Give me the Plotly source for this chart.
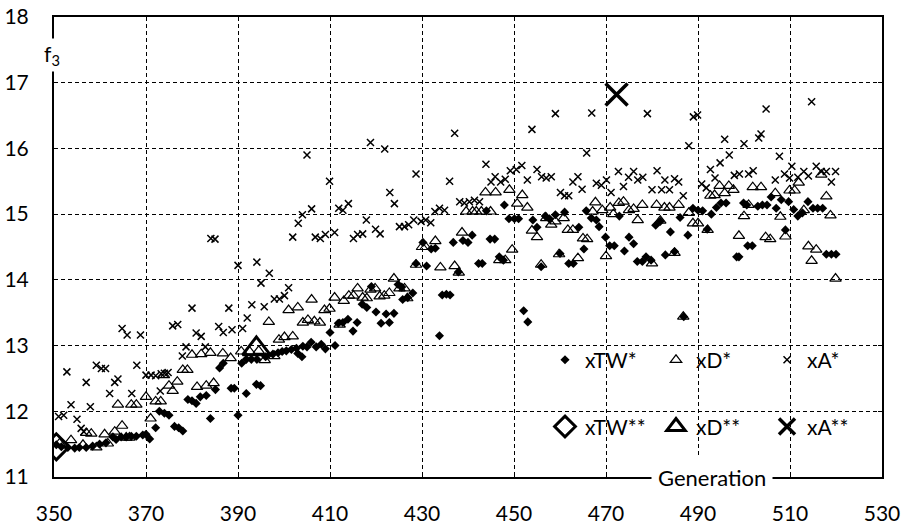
import plotly.graph_objects as go

# ---------------- data ----------------
xtw_x = [350.5, 351.6, 353.0, 354.5, 355.5, 357.0, 358.4, 359.9, 361.3, 362.8, 363.5, 364.6, 365.7, 366.8,
         367.9, 369.3, 370.0, 370.8, 372.1, 372.9, 374.0, 375.0, 376.2, 377.1, 378.0, 379.1, 380.0, 380.9,
         381.8, 383.1, 384.0, 385.1, 386.0, 386.8, 388.5, 389.2, 390.0, 390.8, 391.8, 391.8, 392.9, 394.0,
         394.9, 394.1, 396.0, 397.6, 398.7, 399.6, 400.5, 401.6, 402.7, 403.0, 403.9, 404.1, 405.0, 405.9,
         407.0, 408.1, 409.0, 410.0, 411.1, 411.8, 412.8, 413.9, 415.0, 415.9, 417.0, 418.0, 419.0, 420.0,
         421.1, 422.2, 422.9, 423.9, 424.8, 425.6, 425.8, 426.9, 428.0, 428.7, 430.2, 431.0, 432.0, 432.9,
         433.8, 434.4, 435.3, 436.1, 436.8, 437.9, 438.9, 440.0, 440.9, 442.3, 443.1, 444.0, 444.8, 445.8,
         446.8, 447.7, 447.9, 448.9, 450.1, 451.0, 452.1, 453.0, 454.1, 455.0, 455.9, 456.8, 457.7, 459.0,
         460.0, 461.0, 461.9, 462.9, 464.1, 465.2, 465.7, 466.8, 467.9, 468.5, 469.9, 470.8, 471.8, 472.9,
         474.0, 475.0, 476.0, 476.8, 477.9, 478.7, 479.8, 480.8, 481.8, 482.9, 484.0, 484.9, 486.1, 486.9,
         487.8, 488.9, 490.0, 491.0, 492.0, 492.9, 494.0, 495.0, 496.1, 498.4, 498.9, 499.9, 500.6, 500.8,
         501.8, 503.0, 504.0, 505.0, 505.9, 507.0, 508.1, 509.0, 509.7, 510.8, 511.7, 512.7, 513.9, 515.0,
         516.0, 517.1, 517.9, 519.0, 520.0]
xtw_y = [11.49, 11.46, 11.45, 11.44, 11.45, 11.45, 11.47, 11.50, 11.52, 11.61, 11.57, 11.61, 11.61, 11.62,
         11.62, 11.64, 11.65, 11.58, 11.75, 12.00, 11.97, 11.94, 11.77, 11.75, 11.70, 12.18, 12.16, 12.12,
         12.22, 12.24, 11.89, 12.33, 12.66, 12.73, 12.35, 12.35, 11.94, 12.73, 12.27, 12.79, 12.79, 12.41,
         12.39, 12.79, 12.83, 12.87, 12.89, 12.91, 12.92, 12.94, 12.96, 12.88, 12.83, 12.99, 12.98, 13.05,
         12.98, 13.02, 12.95, 13.20, 13.00, 13.34, 13.35, 13.40, 13.22, 13.35, 13.63, 13.58, 13.90, 13.51,
         13.34, 13.48, 13.35, 13.49, 13.93, 13.89, 13.70, 13.73, 13.80, 14.25, 14.57, 14.21, 14.47, 14.48,
         13.15, 13.77, 13.78, 13.77, 14.57, 14.12, 14.60, 14.57, 14.68, 14.25, 14.25, 15.05, 14.62, 14.62,
         14.35, 14.30, 15.14, 14.93, 14.93, 14.93, 13.53, 13.36, 14.91, 14.80, 14.20, 14.97, 14.93, 14.99,
         14.40, 15.03, 14.25, 14.25, 14.80, 14.47, 15.05, 14.94, 14.91, 14.81, 14.65, 14.52, 14.52, 14.97,
         14.44, 14.65, 14.55, 14.28, 14.28, 14.35, 14.30, 14.83, 14.89, 14.38, 14.73, 14.43, 14.95, 13.44,
         14.68, 15.09, 15.06, 15.05, 14.77, 15.00, 15.10, 15.17, 15.17, 14.35, 14.35, 15.17, 15.14, 14.52,
         14.52, 15.12, 15.14, 15.14, 15.26, 15.09, 15.22, 14.76, 15.19, 15.07, 14.97, 15.02, 15.19, 15.09,
         15.09, 15.09, 14.39, 14.39, 14.39]

xd_x = [351.2, 353.7, 356.3, 357.0, 358.1, 359.2, 361.0, 361.7, 363.2, 364.8, 365.7, 366.4, 363.9, 366.8,
        367.9, 370.0, 371.0, 372.1, 373.2, 373.9, 375.0, 375.8, 376.8, 378.0, 379.0, 380.0, 381.1, 382.0,
        383.1, 384.0, 384.7, 386.7, 388.4, 390.7, 392.5, 394.5, 395.8, 396.7, 397.9, 398.9, 400.1, 401.0,
        401.9, 403.0, 404.1, 405.2, 406.0, 406.6, 407.8, 408.8, 409.9, 411.0, 412.1, 413.0, 414.1, 415.1,
        416.0, 417.1, 418.0, 418.8, 419.8, 420.8, 421.8, 422.9, 423.9, 425.1, 426.2, 426.8, 428.7, 430.0,
        430.8, 432.9, 434.0, 437.1, 438.0, 438.7, 439.6, 441.0, 441.8, 442.9, 444.9, 443.8, 446.0, 446.8,
        448.1, 449.0, 449.6, 450.7, 451.8, 452.9, 453.9, 455.0, 455.9, 457.0, 458.1, 459.0, 459.8, 460.8,
        461.7, 462.8, 463.9, 465.0, 465.9, 467.1, 467.7, 469.2, 470.0, 470.9, 471.6, 472.8, 473.8, 475.0,
        476.0, 476.9, 477.9, 480.0, 481.0, 481.8, 482.7, 483.8, 484.9, 485.8, 486.8, 488.0, 488.9, 490.0,
        492.1, 492.7, 493.6, 494.7, 495.8, 496.7, 497.7, 498.9, 500.0, 501.0, 501.9, 503.7, 504.7, 505.7,
        506.8, 507.9, 509.0, 509.9, 511.0, 511.9, 513.0, 514.0, 514.7, 515.7, 516.8, 517.9, 518.8, 519.9]
xd_y = [11.51, 11.56, 11.49, 11.67, 11.66, 11.45, 11.65, 11.51, 11.69, 11.78, 11.60, 11.60, 12.10, 12.10,
        12.10, 12.22, 11.89, 12.15, 12.15, 12.55, 12.39, 12.31, 12.45, 12.63, 12.63, 12.86, 12.37, 12.87,
        12.39, 12.89, 12.43, 12.88, 12.81, 12.91, 12.91, 12.92, 12.78, 13.36, 12.84, 13.09, 13.13, 13.54,
        13.14, 13.58, 13.35, 13.39, 13.70, 13.37, 13.35, 13.54, 13.56, 13.73, 13.32, 13.68, 13.76, 13.76,
        13.87, 13.73, 13.72, 13.85, 13.87, 13.75, 13.76, 13.80, 14.02, 13.87, 13.87, 13.72, 14.23, 14.50,
        14.50, 14.59, 14.19, 14.21, 14.11, 14.72, 15.04, 15.04, 15.04, 15.04, 15.04, 15.33, 15.33, 14.30,
        14.30, 15.37, 14.46, 15.16, 15.29, 15.10, 14.75, 14.65, 14.23, 14.94, 14.84, 14.89, 14.39, 14.94,
        14.76, 14.76, 14.33, 14.63, 14.62, 15.04, 15.18, 15.06, 14.36, 15.10, 15.00, 15.17, 15.19, 15.06,
        15.08, 14.91, 15.14, 14.25, 15.14, 14.90, 15.10, 15.10, 14.41, 15.14, 13.44, 15.02, 14.86, 14.86,
        14.76, 15.28, 15.29, 15.43, 15.32, 15.43, 15.37, 14.67, 14.97, 15.14, 15.41, 15.41, 14.65, 14.62,
        15.32, 14.96, 14.66, 15.36, 15.36, 15.48, 15.06, 14.51, 14.29, 14.46, 15.60, 15.27, 14.98, 14.02]

xa_x = [351.0, 352.1, 352.8, 353.7, 355.0, 355.9, 356.5, 357.0, 357.9, 359.2, 360.3, 361.2, 362.1, 363.2,
        363.9, 364.8, 365.9, 366.9, 368.0, 368.8, 370.0, 371.1, 372.1, 373.1, 373.3, 374.0, 374.8, 375.8,
        376.9, 377.9, 378.7, 380.0, 380.9, 382.0, 382.9, 384.1, 385.0, 385.8, 386.8, 388.0, 388.7, 390.0,
        391.0, 392.0, 393.0, 394.1, 395.0, 395.7, 396.8, 397.9, 399.0, 400.1, 401.0, 401.9, 403.1, 404.0,
        405.0, 406.0, 406.8, 407.9, 409.0, 409.9, 411.0, 411.9, 412.8, 414.0, 415.1, 416.0, 417.1, 417.9,
        418.8, 419.9, 420.9, 421.9, 423.0, 424.0, 425.1, 426.2, 427.1, 428.2, 428.7, 429.8, 430.8, 431.9,
        432.8, 433.8, 434.9, 436.0, 437.1, 438.2, 439.2, 440.3, 441.4, 442.5, 443.9, 445.0, 445.9, 447.1,
        448.1, 449.2, 450.5, 451.7, 452.9, 453.9, 455.0, 456.0, 457.0, 458.1, 459.0, 460.1, 461.0, 461.9,
        462.8, 463.9, 464.8, 465.8, 466.9, 467.9, 469.0, 470.1, 471.1, 472.7, 473.8, 474.9, 476.0, 476.9,
        478.0, 479.0, 480.0, 481.1, 482.1, 482.8, 483.8, 484.9, 485.8, 486.8, 488.0, 489.0, 489.9, 490.8,
        491.8, 492.7, 493.7, 494.8, 495.8, 496.8, 497.9, 499.0, 500.0, 501.0, 502.0, 503.2, 503.7, 504.8,
        506.8, 507.7, 508.8, 509.9, 510.4, 511.7, 513.0, 514.0, 514.7, 515.7, 516.8, 517.9, 519.0, 519.9]
xa_y = [11.92, 11.94, 12.60, 12.10, 11.88, 11.74, 11.69, 12.44, 12.07, 12.70, 12.65, 12.65, 12.27, 12.44,
        12.49, 13.26, 13.16, 12.27, 12.70, 13.16, 12.55, 12.55, 12.54, 12.31, 12.57, 12.58, 12.59, 13.30,
        13.32, 12.84, 12.98, 13.57, 13.19, 13.14, 12.98, 14.63, 14.62, 13.29, 13.20, 13.57, 13.24, 14.22,
        13.26, 13.42, 13.62, 14.27, 13.95, 13.59, 14.10, 13.71, 13.71, 13.76, 13.88, 14.65, 14.86, 14.99,
        15.90, 15.08, 14.65, 14.63, 14.69, 15.50, 14.72, 15.09, 15.06, 15.16, 14.63, 14.69, 14.70, 14.91,
        16.09, 14.77, 14.70, 15.99, 15.33, 15.16, 14.81, 14.81, 14.84, 14.91, 15.61, 14.89, 14.91, 14.87,
        15.04, 15.09, 15.06, 15.50, 16.23, 15.19, 15.17, 15.19, 15.21, 15.19, 15.76, 15.49, 15.57, 15.49,
        15.53, 15.66, 15.68, 15.74, 15.52, 16.29, 15.68, 15.57, 15.55, 15.57, 16.53, 15.33, 15.28, 15.28,
        15.49, 15.57, 15.38, 15.93, 16.54, 15.47, 15.44, 15.52, 15.33, 15.65, 15.42, 15.56, 15.65, 15.52,
        15.56, 16.53, 15.37, 15.66, 15.37, 15.52, 15.37, 15.54, 15.49, 15.28, 16.04, 16.48, 16.51, 15.46,
        15.40, 15.68, 15.55, 15.78, 16.14, 15.90, 15.59, 15.61, 16.07, 15.61, 15.66, 16.16, 16.22, 16.60,
        15.52, 15.88, 15.61, 15.55, 15.73, 15.56, 15.65, 15.58, 16.71, 15.73, 15.65, 15.65, 15.49, 15.65]

best_tw_x, best_tw_y = [350.5], [11.46]
best_d_x, best_d_y = [394.0], [12.95]
best_a_x, best_a_y = [472.3], [16.82]

x_ticks = [350, 370, 390, 410, 430, 450, 470, 490, 510, 530]
y_ticks = [11, 12, 13, 14, 15, 16, 17, 18]

FONT = "Lato"

fig = go.Figure()

fig.add_trace(go.Scatter(x=xa_x, y=xa_y, mode="markers", name="xA*", legend="legend", legendrank=3,
                         marker=dict(symbol="x-thin-open", size=7, color="black", line=dict(width=1.5, color="black"))))
fig.add_trace(go.Scatter(x=xd_x, y=xd_y, mode="markers", name="xD*", legend="legend", legendrank=2,
                         marker=dict(symbol="triangle-up-open", size=10, color="black", line=dict(width=1.2, color="black"))))
fig.add_trace(go.Scatter(x=xtw_x, y=xtw_y, mode="markers", name="xTW*", legend="legend", legendrank=1,
                         marker=dict(symbol="diamond", size=7, color="black", line=dict(width=0))))

fig.add_trace(go.Scatter(x=best_tw_x, y=best_tw_y, mode="markers", name="xTW**", legend="legend2", legendrank=1,
                         marker=dict(symbol="diamond-open", size=20, color="black", line=dict(width=3, color="black"))))
fig.add_trace(go.Scatter(x=best_d_x, y=best_d_y, mode="markers", name="xD**", legend="legend2", legendrank=2,
                         marker=dict(symbol="triangle-up-open", size=24, color="black", line=dict(width=3, color="black"))))
fig.add_trace(go.Scatter(x=best_a_x, y=best_a_y, mode="markers", name="xA**", legend="legend2", legendrank=3,
                         marker=dict(symbol="x-thin-open", size=22, color="black", line=dict(width=3.5, color="black"))))

grid_dash = "4px,3px"
axis_common = dict(
    showline=True, linecolor="black", linewidth=2, mirror="ticks", automargin=False,
    showgrid=True, gridcolor="black", gridwidth=1, griddash=grid_dash,
    zeroline=False, tickfont=dict(family=FONT, size=21, color="black"),
    ticks="inside", ticklen=4, tickcolor="black", tickwidth=1,
)

fig.update_xaxes(range=[350, 530], tickvals=x_ticks, ticktext=[str(v) for v in x_ticks],
                 ticklabelstandoff=17, **axis_common)
fig.update_yaxes(range=[11, 18], tickvals=y_ticks, ticktext=[str(v) for v in y_ticks],
                 ticklabelstandoff=19, **axis_common)

legend_font = dict(family=FONT, size=21, color="black")
fig.update_layout(
    width=901, height=527,
    margin=dict(l=54, r=19, t=17, b=50, autoexpand=False),
    paper_bgcolor="white", plot_bgcolor="white",
    showlegend=True,
    legend=dict(orientation="h", x=0.593, y=0.254, xanchor="left", yanchor="middle",
                bgcolor="rgba(0,0,0,0)", borderwidth=0, font=legend_font,
                entrywidth=66, entrywidthmode="pixels", itemsizing="trace", tracegroupgap=0),
    legend2=dict(orientation="h", x=0.593, y=0.109, xanchor="left", yanchor="middle",
                 bgcolor="rgba(0,0,0,0)", borderwidth=0, font=legend_font,
                 entrywidth=66, entrywidthmode="pixels", itemsizing="trace", tracegroupgap=0),
    shapes=[dict(type="rect", xref="paper", yref="paper", x0=0.5952, x1=0.9976, y0=0.0304, y1=0.3348,
                 fillcolor="white", line=dict(width=0), layer="between")],
    annotations=[
        dict(text="Generation", xref="paper", yref="paper", x=0.7946, y=0.0, xanchor="center", yanchor="middle",
             showarrow=False, bgcolor="white", borderpad=6, font=dict(family=FONT, size=22, color="black")),
        dict(text="f<sub>3</sub>", xref="paper", yref="paper", x=-0.003, y=0.918, xanchor="center", yanchor="middle",
             showarrow=False, bgcolor="white", borderpad=2, font=dict(family=FONT, size=21, color="black")),
    ],
)

fig.write_html("out.html", config={"displayModeBar": False},
               post_script="document.body.style.margin='0px';document.body.style.overflow='hidden';")
